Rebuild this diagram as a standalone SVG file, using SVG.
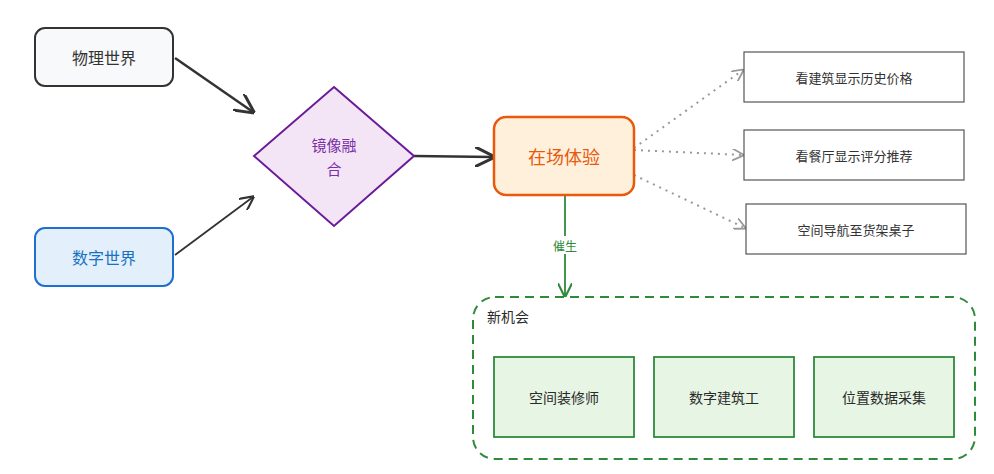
<svg xmlns="http://www.w3.org/2000/svg" width="994" height="474" viewBox="0 0 994 474">
<style>
text{font-family:"Noto Sans CJK SC","Noto Sans",sans-serif;text-anchor:middle;dominant-baseline:central}
.gbox{fill:#e7f5e4;stroke:#2f8a3a;stroke-width:1.8}
.rbox{fill:#fff;stroke:#555;stroke-width:1.2}
.rt{font-size:13px;fill:#333}
.gt{font-size:14px;fill:#2a2a2a}
</style>
<defs>
<marker id="ah" viewBox="0 0 10 10" refX="9" refY="5" markerWidth="8" markerHeight="8" orient="auto"><path d="M0,0 L10,5 L0,10" fill="none" stroke="#333" stroke-width="1.5"/></marker>
<marker id="ag" viewBox="0 0 10 10" refX="9" refY="5" markerWidth="6" markerHeight="6" orient="auto"><path d="M0,0 L10,5 L0,10" fill="none" stroke="#999" stroke-width="1.5"/></marker>
<marker id="agr" viewBox="0 0 10 10" refX="9" refY="5" markerWidth="8" markerHeight="8" orient="auto"><path d="M0,0 L10,5 L0,10" fill="none" stroke="#2f8a3a" stroke-width="1.5"/></marker>
</defs>
<g id="connectors">
<line x1="175" y1="58" x2="253" y2="112" stroke="#333" stroke-width="2.5" marker-end="url(#ah)"/>
<line x1="175" y1="255" x2="253" y2="197" stroke="#333" stroke-width="1.8" marker-end="url(#ah)"/>
<line x1="414" y1="156" x2="493" y2="157" stroke="#333" stroke-width="2.5" marker-end="url(#ah)"/>
<g stroke="#999" stroke-width="2" stroke-dasharray="2 5" fill="none" marker-end="url(#ag)">
<line x1="634" y1="148" x2="743" y2="70"/>
<line x1="634" y1="150" x2="743" y2="155"/>
<line x1="634" y1="175" x2="745" y2="228"/>
</g>
<line x1="565" y1="195" x2="565" y2="296" stroke="#2f8a3a" stroke-width="1.8" marker-end="url(#agr)"/>
<rect x="548" y="236" width="34" height="18" fill="#fff"/>
<text x="565" y="245" font-size="12" fill="#2f8a3a">催生</text>
</g>
<g id="physical"><rect x="35" y="28" width="138" height="58" rx="10" fill="#f8f9fa" stroke="#333" stroke-width="2"/><text x="104" y="57" font-size="16" fill="#333">物理世界</text></g>
<g id="digital"><rect x="35" y="228" width="138" height="58" rx="10" fill="#e3f0fc" stroke="#1e6fd0" stroke-width="2"/><text x="104" y="257" font-size="16" fill="#1971c2">数字世界</text></g>
<g id="mirror"><polygon points="334,87 414,156 334,226 254,156" fill="#f3e5f5" stroke="#6a1b9a" stroke-width="2"/><text x="334" y="144" font-size="15" fill="#7b2fa8">镜像融</text><text x="334" y="168" font-size="15" fill="#7b2fa8">合</text></g>
<g id="presence"><rect x="494" y="117" width="140" height="78" rx="12" fill="#fff0dc" stroke="#e8590c" stroke-width="2.5"/><text x="564" y="156" font-size="18" fill="#e8590c">在场体验</text></g>
<g id="r1"><rect class="rbox" x="744" y="52" width="220" height="50"/><text class="rt" x="854" y="77">看建筑显示历史价格</text></g>
<g id="r2"><rect class="rbox" x="744" y="130" width="220" height="50"/><text class="rt" x="854" y="155">看餐厅显示评分推荐</text></g>
<g id="r3"><rect class="rbox" x="746" y="204" width="220" height="50"/><text class="rt" x="856" y="229">空间导航至货架桌子</text></g>
<g id="opportunities"><rect x="473" y="297" width="502" height="162" rx="22" fill="none" stroke="#2f8a3a" stroke-width="2" stroke-dasharray="9 6"/><text x="508" y="316" font-size="14" fill="#2a2a2a">新机会</text></g>
<g id="g1"><rect class="gbox" x="494" y="357" width="140" height="80"/><text class="gt" x="564" y="397">空间装修师</text></g>
<g id="g2"><rect class="gbox" x="654" y="357" width="140" height="80"/><text class="gt" x="724" y="397">数字建筑工</text></g>
<g id="g3"><rect class="gbox" x="814" y="357" width="140" height="80"/><text class="gt" x="884" y="397">位置数据采集</text></g>
</svg>
